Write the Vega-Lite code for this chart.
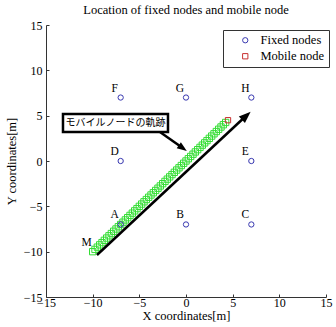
{
  "$schema": "https://vega.github.io/schema/vega-lite/v6.json",
  "autosize": "none",
  "width": 280,
  "height": 272,
  "padding": {"left": 46, "top": 25, "right": 10, "bottom": 30},
  "title": {"text": "Location of fixed nodes and mobile node", "font": "Liberation Serif", "fontSize": 12.5, "fontWeight": "normal", "color": "black", "offset": 3},
  "config": {
    "view": {"stroke": null},
    "axis": {"labelFont": "Liberation Serif", "labelFontSize": 12, "labelColor": "black", "titleFont": "Liberation Serif", "titleFontSize": 12.5, "titleFontWeight": "normal", "titleColor": "black", "domainColor": "#333", "tickColor": "#333", "grid": false, "tickSize": -3, "labelPadding": 6}
  },
  "encoding": {
    "x": {"field": "x", "type": "quantitative", "scale": {"domain": [-15, 15], "nice": false}, "axis": {"values": [-15, -10, -5, 0, 5, 10, 15], "title": "X coordinates[m]", "titlePadding": 1, "labelFlush": false, "labelPadding": 3}},
    "y": {"field": "y", "type": "quantitative", "scale": {"domain": [-15, 15], "nice": false}, "axis": {"values": [-15, -10, -5, 0, 5, 10, 15], "title": "Y coordinates[m]", "titlePadding": 5, "labelFlush": false, "labelPadding": 7}}
  },
  "layer": [
    {
      "data": {"values": [
        {"x": -10, "y": -10}, {"x": -9.75, "y": -9.75}, {"x": -9.5, "y": -9.5}, {"x": -9.25, "y": -9.25}, {"x": -9, "y": -9}, {"x": -8.75, "y": -8.75}, {"x": -8.5, "y": -8.5}, {"x": -8.25, "y": -8.25}, {"x": -8, "y": -8}, {"x": -7.75, "y": -7.75}, {"x": -7.5, "y": -7.5}, {"x": -7.25, "y": -7.25}, {"x": -7, "y": -7}, {"x": -6.75, "y": -6.75}, {"x": -6.5, "y": -6.5}, {"x": -6.25, "y": -6.25}, {"x": -6, "y": -6}, {"x": -5.75, "y": -5.75}, {"x": -5.5, "y": -5.5}, {"x": -5.25, "y": -5.25}, {"x": -5, "y": -5}, {"x": -4.75, "y": -4.75}, {"x": -4.5, "y": -4.5}, {"x": -4.25, "y": -4.25}, {"x": -4, "y": -4}, {"x": -3.75, "y": -3.75}, {"x": -3.5, "y": -3.5}, {"x": -3.25, "y": -3.25}, {"x": -3, "y": -3}, {"x": -2.75, "y": -2.75}, {"x": -2.5, "y": -2.5}, {"x": -2.25, "y": -2.25}, {"x": -2, "y": -2}, {"x": -1.75, "y": -1.75}, {"x": -1.5, "y": -1.5}, {"x": -1.25, "y": -1.25}, {"x": -1, "y": -1}, {"x": -0.75, "y": -0.75}, {"x": -0.5, "y": -0.5}, {"x": -0.25, "y": -0.25}, {"x": 0, "y": 0}, {"x": 0.25, "y": 0.25}, {"x": 0.5, "y": 0.5}, {"x": 0.75, "y": 0.75}, {"x": 1, "y": 1}, {"x": 1.25, "y": 1.25}, {"x": 1.5, "y": 1.5}, {"x": 1.75, "y": 1.75}, {"x": 2, "y": 2}, {"x": 2.25, "y": 2.25}, {"x": 2.5, "y": 2.5}, {"x": 2.75, "y": 2.75}, {"x": 3, "y": 3}, {"x": 3.25, "y": 3.25}, {"x": 3.5, "y": 3.5}, {"x": 3.75, "y": 3.75}, {"x": 4, "y": 4}, {"x": 4.25, "y": 4.25}
      ]},
      "mark": {"type": "point", "shape": "square", "filled": false, "stroke": "#33dd33", "strokeWidth": 1, "size": 40, "opacity": 1}
    },
    {
      "data": {"values": [{"x": -9.54, "y": -10.37}, {"x": 6.3, "y": 4.85}]},
      "mark": {"type": "line", "color": "black", "strokeWidth": 2.5}
    },
    {
      "data": {"values": [{"x": 6.34, "y": 4.88}]},
      "mark": {"type": "point", "shape": "M0,-1L0.6,0.6L-0.6,0.6Z", "filled": true, "color": "black", "opacity": 1, "size": 225, "angle": 47}
    },
    {
      "data": {"values": [
        {"x": -7, "y": -7, "type": "Fixed nodes"}, {"x": 0, "y": -7, "type": "Fixed nodes"}, {"x": 7, "y": -7, "type": "Fixed nodes"},
        {"x": -7, "y": 0, "type": "Fixed nodes"}, {"x": 7, "y": 0, "type": "Fixed nodes"},
        {"x": -7, "y": 7, "type": "Fixed nodes"}, {"x": 0, "y": 7, "type": "Fixed nodes"}, {"x": 7, "y": 7, "type": "Fixed nodes"},
        {"x": 4.5, "y": 4.5, "type": "Mobile node"}
      ]},
      "mark": {"type": "point", "filled": false, "strokeWidth": 1, "size": 28, "opacity": 1},
      "encoding": {
        "shape": {"field": "type", "type": "nominal", "scale": {"domain": ["Fixed nodes", "Mobile node"], "range": ["circle", "square"]},
          "legend": {"orient": "none", "legendX": 177, "legendY": 5, "title": null, "fillColor": "white", "strokeColor": "#333", "padding": 4, "symbolOffset": 12, "labelFont": "Liberation Serif", "labelFontSize": 12.5, "labelColor": "black", "rowPadding": 3, "symbolStrokeWidth": 1, "symbolSize": 28, "labelOffset": 9}},
        "stroke": {"field": "type", "type": "nominal", "scale": {"domain": ["Fixed nodes", "Mobile node"], "range": ["#3838b0", "#c83030"]}}
      }
    },
    {
      "data": {"values": [
        {"x": -7, "y": -7, "label": "A"}, {"x": 0, "y": -7, "label": "B"}, {"x": 7, "y": -7, "label": "C"},
        {"x": -7, "y": 0, "label": "D"}, {"x": 7, "y": 0, "label": "E"},
        {"x": -7, "y": 7, "label": "F"}, {"x": 0, "y": 7, "label": "G"}, {"x": 7, "y": 7, "label": "H"},
        {"x": -10, "y": -10, "label": "M"}
      ]},
      "mark": {"type": "text", "font": "Liberation Serif", "fontSize": 11.5, "color": "black", "align": "center", "baseline": "middle", "dx": -6, "dy": -9},
      "encoding": {"text": {"field": "label"}}
    },
    {
      "data": {"values": [{"x": -2.79, "y": 3.2}, {"x": -0.43, "y": 1.49}]},
      "mark": {"type": "line", "color": "black", "strokeWidth": 2.5}
    },
    {
      "data": {"values": [{"x": -0.45, "y": 1.5}]},
      "mark": {"type": "point", "shape": "M0,-1L0.6,0.6L-0.6,0.6Z", "filled": true, "color": "black", "opacity": 1, "size": 150, "angle": 125}
    },
    {
      "data": {"values": [{"x": -13.18, "x2": -1.93, "y": 5.18, "y2": 3.2}]},
      "mark": {"type": "rect", "fill": "white", "stroke": "black", "strokeWidth": 2.5},
      "encoding": {"x2": {"field": "x2"}, "y2": {"field": "y2"}}
    },
    {
      "data": {"values": [{"x": -7.55, "y": 4.19, "label": "モバイルノードの軌跡"}]},
      "mark": {"type": "text", "font": "Noto Sans CJK JP", "fontSize": 10, "color": "black", "align": "center", "baseline": "middle"},
      "encoding": {"text": {"field": "label"}}
    }
  ]
}
